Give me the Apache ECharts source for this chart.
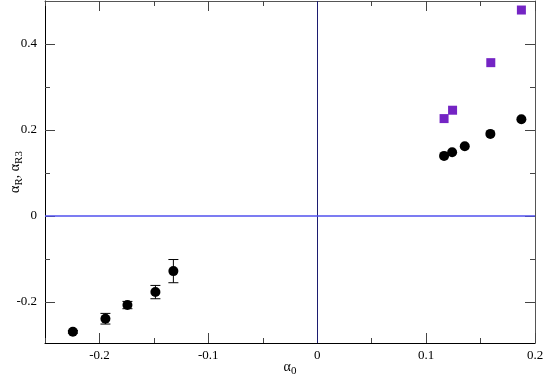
<!DOCTYPE html>
<html>
<head>
<meta charset="utf-8">
<script src="https://cdn.jsdelivr.net/npm/echarts@6/dist/echarts.min.js"></script>
<style>
  html, body { margin: 0; padding: 0; background: #fff; }
  #chart { width: 545px; height: 378px; }
</style>
</head>
<body>
<div id="chart"></div>
<script>
// tick positions
const xMajor = [-0.2, -0.1, 0, 0.1, 0.2]
const xMinor = [-0.25, -0.15, -0.05, 0.05, 0.15]
const xTickLabels = ['-0.2', '-0.1', '0', '0.1', '0.2']
const yMajor = [-0.2, 0, 0.2, 0.4]
const yMinor = [-0.1, 0.1, 0.3]
const yTickLabels = ['-0.2', '0', '0.2', '0.4']

// alpha_R (black circles) with error bars
const alpha0R = [-0.2244, -0.1945, -0.1743, -0.1486, -0.1321, 0.1165, 0.1239, 0.1355, 0.159, 0.1875]
const alphaR = [-0.270, -0.2395, -0.2077, -0.1775, -0.1287, 0.1395, 0.148, 0.162, 0.1907, 0.2248]
const alphaRErr = [0.003, 0.0124, 0.0085, 0.0155, 0.027, 0, 0, 0, 0, 0]

// alpha_R3 (purple squares)
const alpha0R3 = [0.1165, 0.1243, 0.1594, 0.1875]
const alphaR3 = [0.2263, 0.2458, 0.3565, 0.479]

const FONT = 'Liberation Serif'
const chart = echarts.init(document.getElementById('chart'))

const fmt = (vals, labels) => v => {
  const i = vals.findIndex(t => Math.abs(t - v) < 1e-9)
  return i >= 0 ? labels[i] : ''
}

function axisSet(dim, min, max, major, minor, labels) {
  const isX = dim === 'x'
  const sides = isX ? ['bottom', 'top'] : ['left', 'right']
  const out = []
  sides.forEach((pos, si) => {
    out.push({
      type: 'value', position: pos, min, max,
      axisLine: { show: true, onZero: false, lineStyle: { color: si ? '#555' : '#000', width: 1 } },
      axisTick: { show: true, inside: true, length: 10, customValues: major, lineStyle: { color: '#444' } },
      axisLabel: {
        show: si === 0, customValues: major, formatter: fmt(major, labels),
        fontFamily: FONT, fontSize: 13, color: '#000', margin: isX ? 6 : 8
      },
      splitLine: { show: false }
    })
    out.push({
      type: 'value', position: pos, min, max,
      axisLine: { show: false, onZero: false },
      axisTick: { show: true, inside: true, length: 5, customValues: minor, lineStyle: { color: '#444' } },
      axisLabel: { show: false },
      splitLine: { show: false }
    })
  })
  return out
}

const richName = {
  a: { fontFamily: FONT, fontSize: 14, color: '#000', lineHeight: 16 },
  s: { fontFamily: FONT, fontSize: 11, color: '#000', lineHeight: 16, padding: [8, 0, 0, 0] }
}

const xAxes = axisSet('x', -0.25, 0.2, xMajor, xMinor, xTickLabels)
xAxes[0].name = '{a|α}{s|0}'
xAxes[0].nameLocation = 'middle'
xAxes[0].nameGap = 16
xAxes[0].nameMoveOverlap = false
xAxes[0].nameTextStyle = { fontFamily: FONT, color: '#000', rich: richName }

const yAxes = axisSet('y', -0.296, 0.5, yMajor, yMinor, yTickLabels)
yAxes[0].name = '{a|α}{s|R}{a|, α}{s|R3}'
yAxes[0].nameLocation = 'middle'
yAxes[0].nameGap = 22
yAxes[0].nameMoveOverlap = false
yAxes[0].nameTextStyle = { fontFamily: FONT, color: '#000', rich: richName }

const errData = alpha0R.map((x, i) => [x, alphaR[i] - alphaRErr[i], alphaR[i] + alphaRErr[i]])
  .filter((d, i) => alphaRErr[i] > 0)

chart.setOption({
  animation: false,
  textStyle: { fontFamily: FONT },
  grid: { left: 45, right: 10, top: 1, bottom: 35, containLabel: false, outerBoundsMode: 'none' },
  xAxis: xAxes,
  yAxis: yAxes,
  series: [
    {
      type: 'line',
      data: [],
      markLine: {
        silent: true, symbol: 'none', label: { show: false },
        data: [
          { xAxis: 0, lineStyle: { color: '#1c1c70', width: 1, type: 'solid' } },
          { yAxis: 0, lineStyle: { color: '#5050ee', width: 1.5, type: 'solid' } }
        ]
      }
    },
    {
      type: 'custom',
      data: errData,
      z: 3,
      renderItem(params, api) {
        const lo = api.coord([api.value(0), api.value(1)])
        const hi = api.coord([api.value(0), api.value(2)])
        const w = 5
        const st = { stroke: '#000', lineWidth: 1 }
        return {
          type: 'group',
          children: [
            { type: 'line', shape: { x1: lo[0], y1: lo[1], x2: hi[0], y2: hi[1] }, style: st },
            { type: 'line', shape: { x1: lo[0] - w, y1: lo[1], x2: lo[0] + w, y2: lo[1] }, style: st },
            { type: 'line', shape: { x1: hi[0] - w, y1: hi[1], x2: hi[0] + w, y2: hi[1] }, style: st }
          ]
        }
      }
    },
    {
      type: 'scatter',
      data: alpha0R.map((x, i) => [x, alphaR[i]]),
      symbol: 'circle',
      symbolSize: 10,
      z: 4,
      itemStyle: { color: '#000', opacity: 1 }
    },
    {
      type: 'scatter',
      data: alpha0R3.map((x, i) => [x, alphaR3[i]]),
      symbol: 'rect',
      symbolSize: 9,
      z: 4,
      itemStyle: { color: '#7424c4', opacity: 1 }
    }
  ]
})
</script>
</body>
</html>
